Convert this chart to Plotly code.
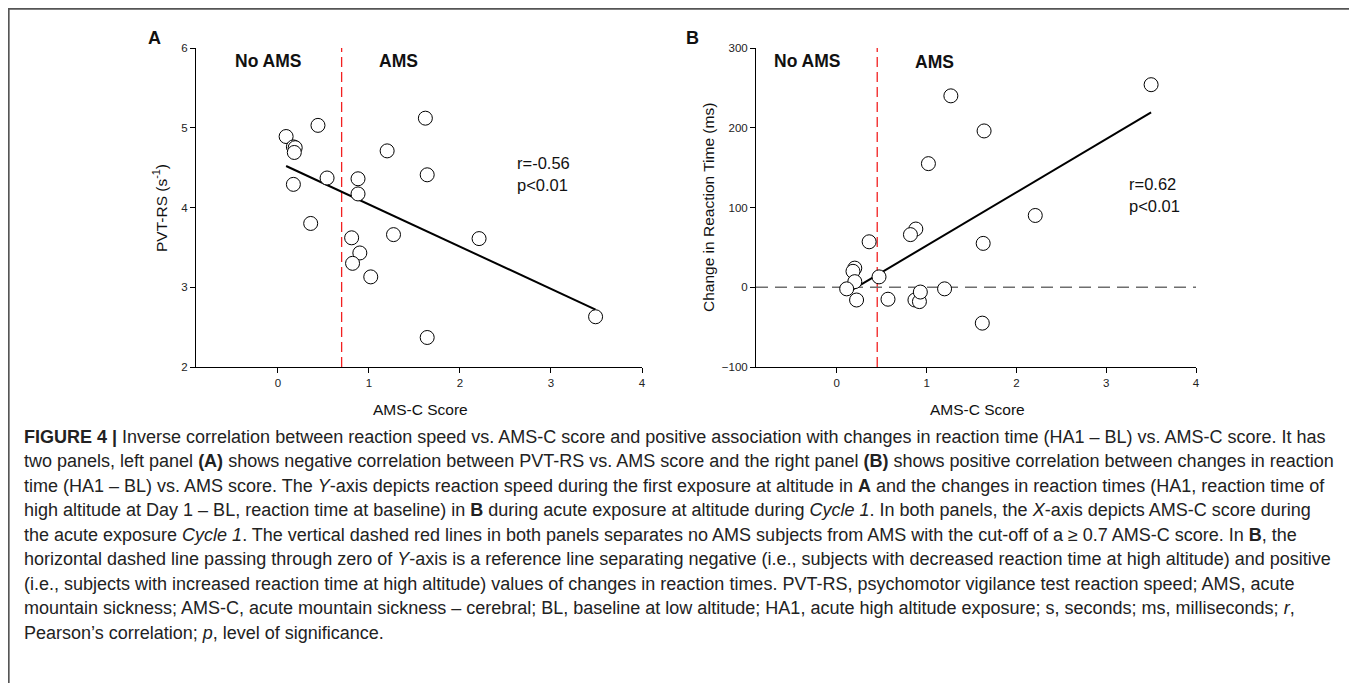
import plotly.graph_objects as go

# page body has an 8px margin, so the figure is sized to fill the rest of the window
OFF = 8
W, H = 1357 - OFF, 683 - OFF

# ---------------- data ----------------
ams_a = [0.09, 0.44, 0.17, 0.19, 0.18, 0.17, 0.54, 0.36, 0.88, 0.88, 1.20, 1.62, 1.64,
         0.81, 0.90, 0.82, 1.02, 1.27, 2.21, 3.49, 1.64]
pvt_rs = [4.89, 5.03, 4.76, 4.75, 4.69, 4.29, 4.37, 3.80, 4.36, 4.17, 4.71, 5.12, 4.41,
          3.62, 3.43, 3.30, 3.13, 3.66, 3.61, 2.63, 2.37]
fit_a_x = [0.09, 3.49]
fit_a_y = [4.52, 2.72]
cutoff_a = 0.70

ams_b = [1.27, 3.50, 1.64, 1.02, 2.21, 0.88, 0.82, 0.36, 1.63, 0.20, 0.18, 0.20, 0.11,
         0.47, 0.22, 0.57, 0.87, 0.92, 0.93, 1.20, 1.62]
drt_b = [240, 254, 196, 155, 90, 73, 66, 57, 55, 24, 20, 7, -2,
         13, -16, -15, -16, -18, -6, -2, -45]
fit_b_x = [0.09, 3.50]
fit_b_y = [-8.6, 219.3]
cutoff_b = 0.45
ref_zero = 0

x_ticks = [0, 1, 2, 3, 4]
ya_ticks = [2, 3, 4, 5, 6]
yb_ticks = [-100, 0, 100, 200, 300]

caption_lines = [
    "<b>FIGURE 4 |</b> Inverse correlation between reaction speed vs. AMS-C score and positive association with changes in reaction time (HA1 – BL) vs. AMS-C score. It has",
    "two panels, left panel <b>(A)</b> shows negative correlation between PVT-RS vs. AMS score and the right panel <b>(B)</b> shows positive correlation between changes in reaction",
    "time (HA1 – BL) vs. AMS score. The <i>Y</i>-axis depicts reaction speed during the first exposure at altitude in <b>A</b> and the changes in reaction times (HA1, reaction time of",
    "high altitude at Day 1 – BL, reaction time at baseline) in <b>B</b> during acute exposure at altitude during <i>Cycle 1</i>. In both panels, the <i>X</i>-axis depicts AMS-C score during",
    "the acute exposure <i>Cycle 1</i>. The vertical dashed red lines in both panels separates no AMS subjects from AMS with the cut-off of a ≥ 0.7 AMS-C score. In <b>B</b>, the",
    "horizontal dashed line passing through zero of <i>Y</i>-axis is a reference line separating negative (i.e., subjects with decreased reaction time at high altitude) and positive",
    "(i.e., subjects with increased reaction time at high altitude) values of changes in reaction times. PVT-RS, psychomotor vigilance test reaction speed; AMS, acute",
    "mountain sickness; AMS-C, acute mountain sickness – cerebral; BL, baseline at low altitude; HA1, acute high altitude exposure; s, seconds; ms, milliseconds; <i>r</i>,",
    "Pearson’s correlation; <i>p</i>, level of significance.",
]

# ---------------- helpers (window pixel -> paper) ----------------
def px(x):
    return (x - OFF) / W

def py(y):
    return 1 - (y - OFF) / H

FONT = "Liberation Sans, Arial, sans-serif"
CAP_FONT = "Liberation Sans, Arial, sans-serif"

fig = go.Figure()

marker = dict(size=14, color="white", line=dict(color="black", width=1))

fig.add_trace(go.Scatter(x=fit_a_x, y=fit_a_y, mode="lines", line=dict(color="black", width=2),
                         xaxis="x", yaxis="y", showlegend=False, hoverinfo="skip"))
fig.add_trace(go.Scatter(x=ams_a, y=pvt_rs, mode="markers", marker=marker,
                         xaxis="x", yaxis="y", showlegend=False))
fig.add_trace(go.Scatter(x=fit_b_x, y=fit_b_y, mode="lines", line=dict(color="black", width=2),
                         xaxis="x2", yaxis="y2", showlegend=False, hoverinfo="skip"))
fig.add_trace(go.Scatter(x=ams_b, y=drt_b, mode="markers", marker=marker,
                         xaxis="x2", yaxis="y2", showlegend=False))

ax_common = dict(showgrid=False, zeroline=False, showline=True, linecolor="black", linewidth=1,
                 ticks="outside", ticklen=5, tickwidth=1, tickcolor="black",
                 tickfont=dict(family=FONT, size=11.5, color="#222"), automargin=False)

fig.update_layout(
    width=W, height=H, margin=dict(l=0, r=0, t=0, b=0),
    paper_bgcolor="white", plot_bgcolor="white",
    xaxis=dict(domain=[px(196), px(642)], range=[-0.9, 4], tickvals=x_ticks, anchor="y", **ax_common),
    yaxis=dict(domain=[py(367), py(48)], range=[2, 6], tickvals=ya_ticks, anchor="x", **ax_common),
    xaxis2=dict(domain=[px(756), px(1196)], range=[-0.9, 4], tickvals=x_ticks, anchor="y2", **ax_common),
    yaxis2=dict(domain=[py(367), py(48)], range=[-100, 300], tickvals=yb_ticks, anchor="x2", **ax_common),
)

shapes = [
    dict(type="line", xref="x", yref="y domain", x0=cutoff_a, x1=cutoff_a, y0=0, y1=1,
         line=dict(color="#f22020", width=1.3, dash="10px,5px"), layer="below"),
    dict(type="line", xref="x2", yref="y2 domain", x0=cutoff_b, x1=cutoff_b, y0=0, y1=1,
         line=dict(color="#f22020", width=1.3, dash="10px,5px"), layer="below"),
    dict(type="line", xref="x2 domain", yref="y2", x0=0, x1=1, y0=ref_zero, y1=ref_zero,
         line=dict(color="#6e6e6e", width=1.5, dash="12px,7px"), layer="below"),
    dict(type="rect", xref="paper", yref="paper", x0=px(8.75), x1=px(1353), y0=-0.05, y1=py(8.75),
         line=dict(color="#555", width=1.8), fillcolor="rgba(0,0,0,0)"),
]
fig.update_layout(shapes=shapes)

ann = []
def add_text(x, y, text, size, xanchor="center", angle=0, family=FONT, color="#111"):
    ann.append(dict(x=px(x), y=py(y), xref="paper", yref="paper", text=text, showarrow=False,
                    xanchor=xanchor, yanchor="middle", textangle=angle,
                    font=dict(family=family, size=size, color=color)))

add_text(154, 38, "<b>A</b>", 18)
add_text(692, 38, "<b>B</b>", 18)
add_text(268, 61, "<b>No AMS</b>", 17.5)
add_text(398, 61, "<b>AMS</b>", 17.5)
add_text(807, 61, "<b>No AMS</b>", 17.5)
add_text(934, 62, "<b>AMS</b>", 17.5)
add_text(515, 163, "r=-0.56", 16.5, xanchor="left")
add_text(515, 185, "p<0.01", 16.5, xanchor="left")
add_text(1127, 184, "r=0.62", 16.5, xanchor="left")
add_text(1127, 206, "p<0.01", 16.5, xanchor="left")
add_text(160, 208, "PVT-RS (s<sup>-1</sup>)", 15.5, angle=-90)
add_text(708, 208, "Change in Reaction Time (ms)", 15.5, angle=-90)
add_text(420, 410, "AMS-C Score", 15.5)
add_text(977, 410, "AMS-C Score", 15.5)

for i, line in enumerate(caption_lines):
    add_text(22, 437 + i * 24.45, line, 18, xanchor="left", family=CAP_FONT, color="#222")

fig.update_layout(annotations=ann)

fig.write_html("out.html")
